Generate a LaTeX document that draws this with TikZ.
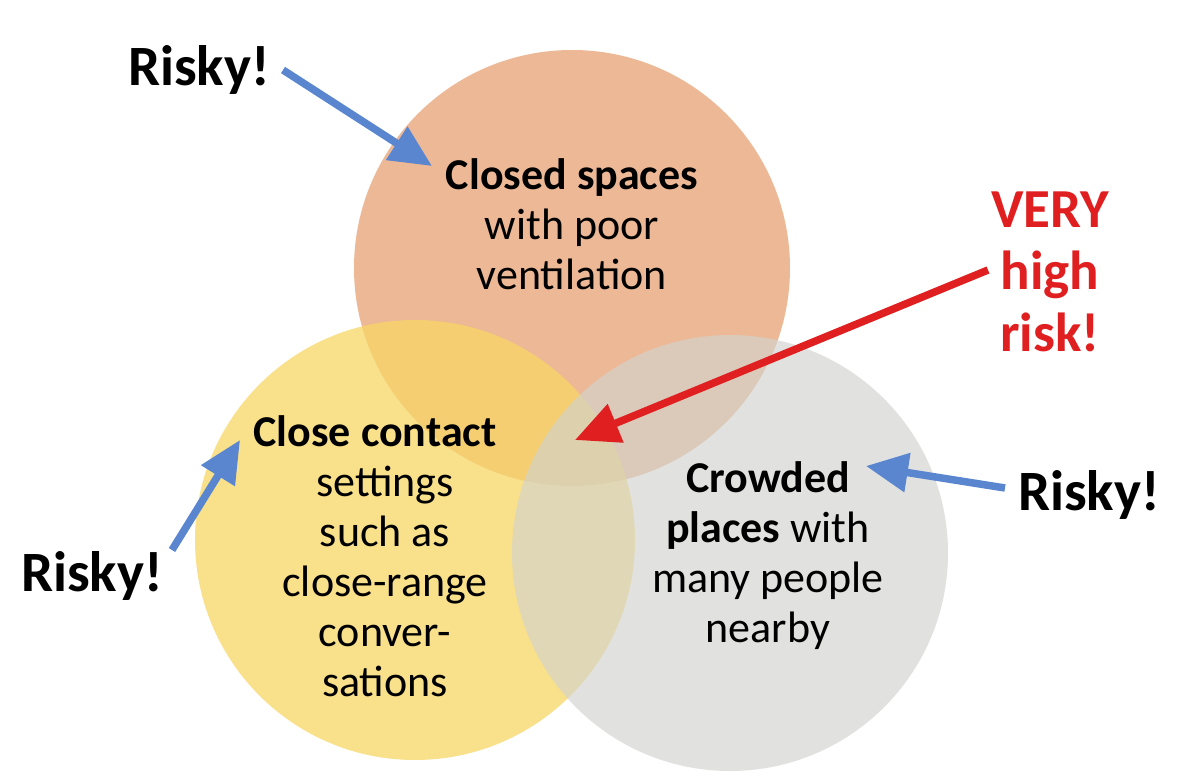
\documentclass[tikz,border=0pt]{standalone}
\usepackage{fontspec}
\setmainfont{Carlito}
\usetikzlibrary{arrows.meta}
\definecolor{corange}{HTML}{EDB896}
\definecolor{cyellow}{HTML}{F7D664}
\definecolor{cgrey}{HTML}{D2D3CE}
\definecolor{cblue}{HTML}{5A86D0}
\definecolor{cred}{HTML}{E02020}
\tikzset{
  body/.style={align=center,inner sep=0pt,font=\fontsize{44}{50}\selectfont},
  risky/.style={inner sep=0pt,font=\fontsize{57}{50}\selectfont\bfseries},
  barrow/.style={cblue,line width=7.5pt,-{Triangle[length=42pt,width=38pt]}},
  rarrow/.style={cred,line width=7.5pt,-{Triangle[length=44pt,width=40pt]}}
}
\begin{document}
\begin{tikzpicture}[x=1pt,y=-1pt]
\useasboundingbox[fill=white] (0,0) rectangle (1200,776);
\fill[corange] (572,268) circle (218);
\fill[cyellow,fill opacity=0.75] (415,540) circle (220);
\fill[cgrey,fill opacity=0.65] (730,553) circle (218);
\node[body] (t1) at (572,224) {\textbf{Closed spaces}\\with poor\\ventilation};
\node[body] (t2) at (375,556) {\textbf{Close contact}\\\hspace*{20pt}settings\\\hspace*{20pt}such as\\\hspace*{20pt}close-range\\\hspace*{20pt}conver-\\\hspace*{20pt}sations};
\node[body] (t3) at (768,556) {\textbf{Crowded}\\\textbf{places} with\\many people\\nearby};
\node[risky] (r1) at (199,70) {Risky!};
\node[risky] (r2) at (92,576) {Risky!};
\node[risky] (r3) at (1089,495) {Risky!};
\node[risky,cred,align=center,font=\fontsize{55}{62}\selectfont\bfseries] (vh) at (1050,272) {VERY\\high\\risk!};
\coordinate (a1) at (432,166);
\coordinate (a2) at (240,440);
\coordinate (a3) at (866,466);
\coordinate (a4) at (575,440);
\coordinate (s1) at (283,70);
\coordinate (s2) at (172,550);
\coordinate (s3) at (1005,488);
\coordinate (s4) at (988,270);
\draw[barrow] (s1) -- (a1);
\draw[barrow] (s2) -- (a2);
\draw[barrow] (s3) -- (a3);
\draw[rarrow] (s4) -- (a4);
\end{tikzpicture}
\end{document}
